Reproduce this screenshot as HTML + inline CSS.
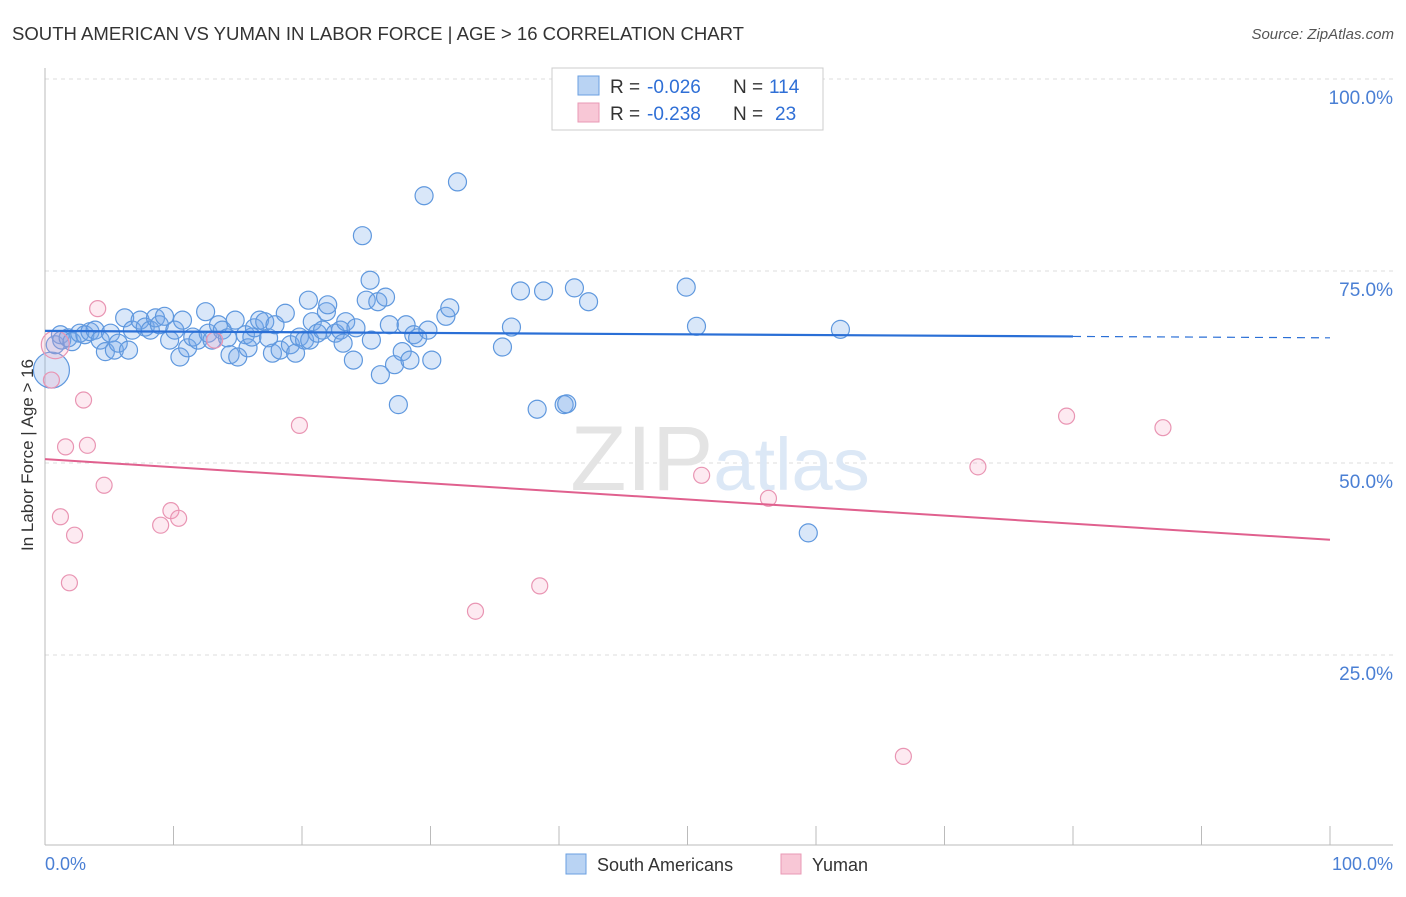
<!DOCTYPE html>
<html><head><meta charset="utf-8"><style>
body{margin:0;background:#fff;font-family:"Liberation Sans",sans-serif;}
svg text{font-family:"Liberation Sans",sans-serif;}
</style></head><body>
<svg width="1406" height="892">
<text x="12" y="40" font-size="18" fill="#333" textLength="732" lengthAdjust="spacingAndGlyphs">SOUTH AMERICAN VS YUMAN IN LABOR FORCE | AGE &gt; 16 CORRELATION CHART</text>
<text x="1394" y="39" font-size="15" fill="#555" font-style="italic" text-anchor="end">Source: ZipAtlas.com</text>
<g id="grid"></g>
<text x="720" y="490" font-size="92" fill="#e4e4e4" text-anchor="middle" font-family="Liberation Serif">ZIP<tspan fill="#dce8f6" font-family="Liberation Sans" font-size="74">atlas</tspan></text>
<g id="pts"></g>
<g id="trends"></g>
<text x="33" y="455" font-size="17" fill="#333" text-anchor="middle" transform="rotate(-90 33 455)">In Labor Force | Age &gt; 16</text>
<text x="45" y="870" font-size="18" fill="#4a7fd4">0.0%</text>
<text x="1393" y="870" font-size="18" fill="#4a7fd4" text-anchor="end">100.0%</text>
<g>
<rect x="552" y="68" width="271" height="62" fill="#fff" stroke="#ccc"/>
<rect x="578" y="76" width="21" height="19" fill="#b9d3f3" stroke="#6a9fe0"/>
<rect x="578" y="103" width="21" height="19" fill="#f8c7d6" stroke="#e99ab5"/>
<text x="610" y="93" font-size="19" fill="#333">R =</text>
<text x="647" y="93" font-size="19" fill="#2f6fd6">-0.026</text>
<text x="733" y="93" font-size="19" fill="#333">N =</text>
<text x="769" y="93" font-size="19" fill="#2f6fd6">114</text>
<text x="610" y="120" font-size="19" fill="#333">R =</text>
<text x="647" y="120" font-size="19" fill="#2f6fd6">-0.238</text>
<text x="733" y="120" font-size="19" fill="#333">N =</text>
<text x="775" y="120" font-size="19" fill="#2f6fd6">23</text>
</g>
<g>
<rect x="566" y="854" width="20" height="20" fill="#b9d3f3" stroke="#6a9fe0"/>
<text x="597" y="871" font-size="18" fill="#333">South Americans</text>
<rect x="781" y="854" width="20" height="20" fill="#f8c7d6" stroke="#e99ab5"/>
<text x="812" y="871" font-size="18" fill="#333">Yuman</text>
</g>
</svg>
<script>
const yTicks=[25,50,75,100];
const xTicks=[10,20,30,40,50,60,70,80,90,100];
const blueX=[0.5,0.8,1.2,1.3,1.8,2.1,2.7,3.1,3.5,3.9,4.3,4.7,5.1,5.4,5.7,6.2,6.5,6.8,7.4,7.8,8.2,8.6,8.9,9.3,9.7,10.1,10.5,10.7,11.1,11.5,11.9,12.5,12.7,13.0,13.5,13.8,14.2,14.4,14.8,15.0,15.6,15.8,16.1,16.3,16.7,17.1,17.4,17.7,17.9,18.3,18.7,19.1,19.5,19.8,20.2,20.5,20.6,20.8,21.2,21.6,21.9,22.0,22.6,23.0,23.2,23.4,24.0,24.2,24.7,25.0,25.3,25.4,25.9,26.1,26.5,26.8,27.2,27.5,27.8,28.1,28.4,28.7,29.0,29.5,29.8,30.1,31.2,31.5,32.1,35.6,36.3,37.0,38.3,38.8,40.4,40.6,41.2,42.3,49.9,50.7,59.4,61.9];
const blueY=[62.1,65.4,66.7,66.0,66.3,65.8,66.9,66.7,67.1,67.3,66.0,64.5,66.9,64.7,65.6,68.9,64.7,67.3,68.6,67.7,67.3,68.9,68.0,69.1,66.0,67.3,63.8,68.6,65.0,66.4,66.0,69.7,66.9,66.0,68.0,67.3,66.3,64.1,68.6,63.8,66.7,65.0,66.4,67.6,68.6,68.4,66.3,64.3,68.0,64.7,69.5,65.4,64.3,66.4,66.0,71.2,66.0,68.4,66.9,67.3,69.7,70.6,66.9,67.3,65.6,68.4,63.4,67.6,79.6,71.2,73.8,66.0,71.0,61.5,71.6,68.0,62.8,57.6,64.5,68.0,63.4,66.7,66.3,84.8,67.3,63.4,69.1,70.2,86.6,65.1,67.7,72.4,57.0,72.4,57.6,57.7,72.8,71.0,72.9,67.8,40.9,67.4];
const pinkX=[0.5,0.8,3.0,1.6,3.3,4.1,4.6,1.2,2.3,1.9,9.0,9.8,10.4,13.2,19.8,33.5,38.5,51.1,56.3,66.8,72.6,79.5,87.0];
const pinkY=[60.8,65.4,58.2,52.1,52.3,70.1,47.1,43.0,40.6,34.4,41.9,43.8,42.8,66.0,54.9,30.7,34.0,48.4,45.4,11.8,49.5,56.1,54.6];
const blueTrend=[67.2,66.3];
const pinkTrend=[50.5,40.0];
const NS="http://www.w3.org/2000/svg";
const X=v=>45+v*12.85, Y=v=>847-v*7.68;
function mk(t,a,p){const e=document.createElementNS(NS,t);for(const k in a)e.setAttribute(k,a[k]);p.appendChild(e);return e;}
const g=document.getElementById('grid');
yTicks.forEach(t=>{
 const l=mk('line',{x1:45,x2:1393,y1:Y(t),y2:Y(t),stroke:'#ddd','stroke-dasharray':'4,4'},g);
 
 
 const tx=mk('text',{x:1393,y:Y(t)+25,'font-size':19,fill:'#4a7fd4','text-anchor':'end'},g);tx.textContent=t.toFixed(1)+'%';
 
 
});
const ax=mk('line',{x1:45,x2:45,y1:68,y2:845,stroke:'#bbb'},g);


const bx=mk('line',{x1:45,x2:1393,y1:845,y2:845,stroke:'#bbb'},g);


xTicks.forEach(t=>{const l=mk('line',{x1:X(t),x2:X(t),y1:826,y2:845,stroke:'#bbb'},g);
 
 });
const p=document.getElementById('pts');
blueX.forEach((v,i)=>{const c=mk('circle',{cx:X(v),cy:Y(blueY[i]),r:i==0?18:9,fill:'rgba(120,170,235,0.28)',stroke:'#5f98de','stroke-width':1.2},p);
 
 });
pinkX.forEach((v,i)=>{const c=mk('circle',{cx:X(v),cy:Y(pinkY[i]),r:i==1?14:8,fill:'rgba(245,160,190,0.22)',stroke:'#e995b3','stroke-width':1.2},p);
 
 });
const tr=document.getElementById('trends');
const by=v=>blueTrend[0]+(blueTrend[1]-blueTrend[0])*v/100;
let l1=mk('line',{x1:X(0),y1:Y(by(0)),x2:X(80),y2:Y(by(80)),stroke:'#2a6fd6','stroke-width':2.2},tr);


let l2=mk('line',{x1:X(80),y1:Y(by(80)),x2:X(100),y2:Y(by(100)),stroke:'#2a6fd6','stroke-width':1.2,'stroke-dasharray':'8,6'},tr);


let l3=mk('line',{x1:X(0),y1:Y(pinkTrend[0]),x2:X(100),y2:Y(pinkTrend[1]),stroke:'#e0608e','stroke-width':2},tr);


</script>
</body></html>
